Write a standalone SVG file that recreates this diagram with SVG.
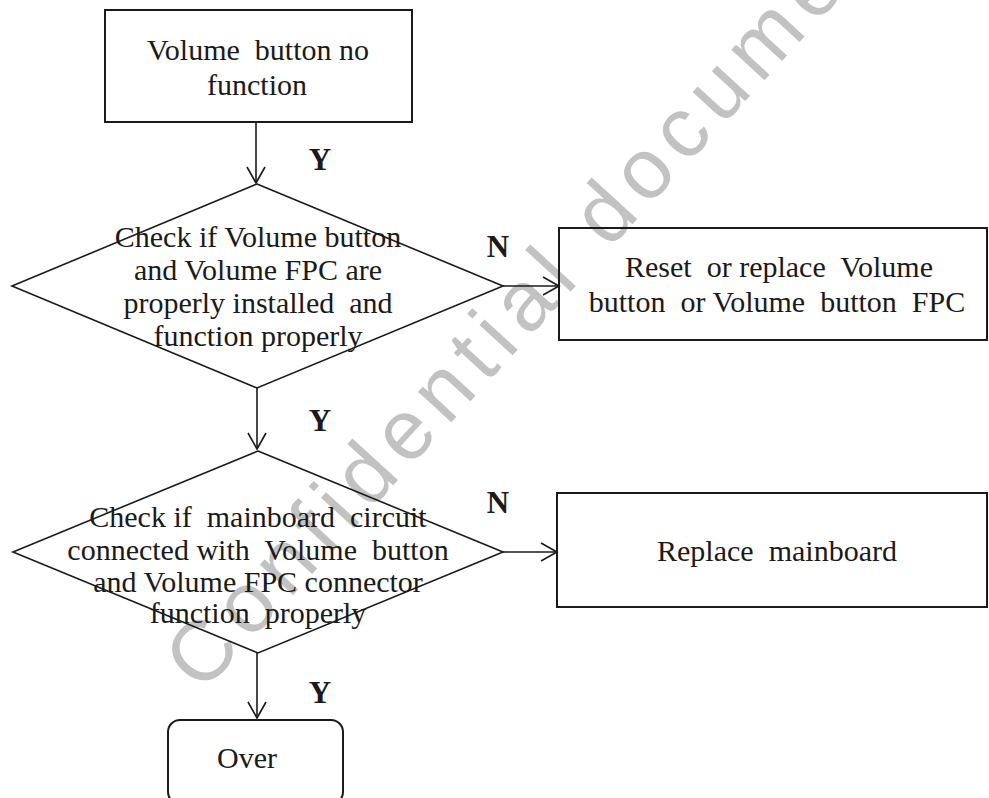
<svg xmlns="http://www.w3.org/2000/svg" width="989" height="798" viewBox="0 0 989 798">
<style>
.bg{fill:#ffffff}
.shape{fill:none;stroke:#1a1a1a;stroke-width:1.6}
.box{fill:none;stroke:#1a1a1a;stroke-width:2}
.conn{fill:none;stroke:#1a1a1a;stroke-width:1.6}
.t{font-family:"Liberation Serif","Times New Roman",serif;font-size:30px;fill:#1a1a1a;text-anchor:middle}
.lbl{font-family:"Liberation Serif","Times New Roman",serif;font-size:31px;font-weight:bold;fill:#1a1a1a;text-anchor:middle}
.wm{font-family:"Liberation Sans",Arial,sans-serif;font-size:85px;letter-spacing:10px;fill:#c2c2c2}
</style>
<defs>
<marker id="arr" viewBox="-18 -11 20 22" refX="0" refY="0" markerWidth="20" markerHeight="22" markerUnits="userSpaceOnUse" orient="auto">
<path d="M-16,-9 L0,0 L-16,9" fill="none" stroke="#1a1a1a" stroke-width="1.6"/>
</marker>
</defs>
<rect class="bg" x="0" y="0" width="989" height="798"/>
<g id="watermark">
<text class="wm" transform="translate(202,694) rotate(-47.5)">Confidential document</text>
</g>
<g id="connectors">
<line class="conn" x1="256" y1="122" x2="256" y2="183" marker-end="url(#arr)"/>
<line class="conn" x1="503" y1="286" x2="559" y2="286" marker-end="url(#arr)"/>
<line class="conn" x1="257" y1="388" x2="257" y2="449" marker-end="url(#arr)"/>
<line class="conn" x1="503" y1="552" x2="557" y2="552" marker-end="url(#arr)"/>
<line class="conn" x1="257" y1="653" x2="257" y2="718" marker-end="url(#arr)"/>
<text class="lbl" x="320" y="170">Y</text>
<text class="lbl" x="498" y="257">N</text>
<text class="lbl" x="320" y="431">Y</text>
<text class="lbl" x="498" y="513">N</text>
<text class="lbl" x="320" y="703">Y</text>
</g>
<g id="start">
<rect class="box" x="105" y="10" width="307" height="112"/>
<text class="t" x="258" y="60" xml:space="preserve">Volume  button no</text>
<text class="t" x="257" y="95">function</text>
</g>
<g id="check1">
<polygon class="shape" points="257,184 503,286 257,388 12,286"/>
<text class="t" x="258" y="247">Check if Volume button</text>
<text class="t" x="258" y="280">and Volume FPC are</text>
<text class="t" x="258" y="313" xml:space="preserve">properly installed  and</text>
<text class="t" x="258" y="346">function properly</text>
</g>
<g id="reset">
<rect class="box" x="559" y="228" width="428" height="112"/>
<text class="t" x="779" y="277" xml:space="preserve">Reset  or replace  Volume</text>
<text class="t" x="777" y="312" xml:space="preserve">button  or Volume  button  FPC</text>
</g>
<g id="check2">
<polygon class="shape" points="258,451 503,552 258,653 13,552"/>
<text class="t" x="258" y="527" xml:space="preserve">Check if  mainboard  circuit</text>
<text class="t" x="258" y="560" xml:space="preserve">connected with  Volume  button</text>
<text class="t" x="258" y="592">and Volume FPC connector</text>
<text class="t" x="258" y="623" xml:space="preserve">function  properly</text>
</g>
<g id="replace">
<rect class="box" x="557" y="493" width="430" height="114"/>
<text class="t" x="777" y="561" xml:space="preserve">Replace  mainboard</text>
</g>
<g id="over">
<rect class="box" x="168" y="720" width="175" height="84" rx="12" ry="12"/>
<text class="t" x="247" y="768">Over</text>
</g>
</svg>
